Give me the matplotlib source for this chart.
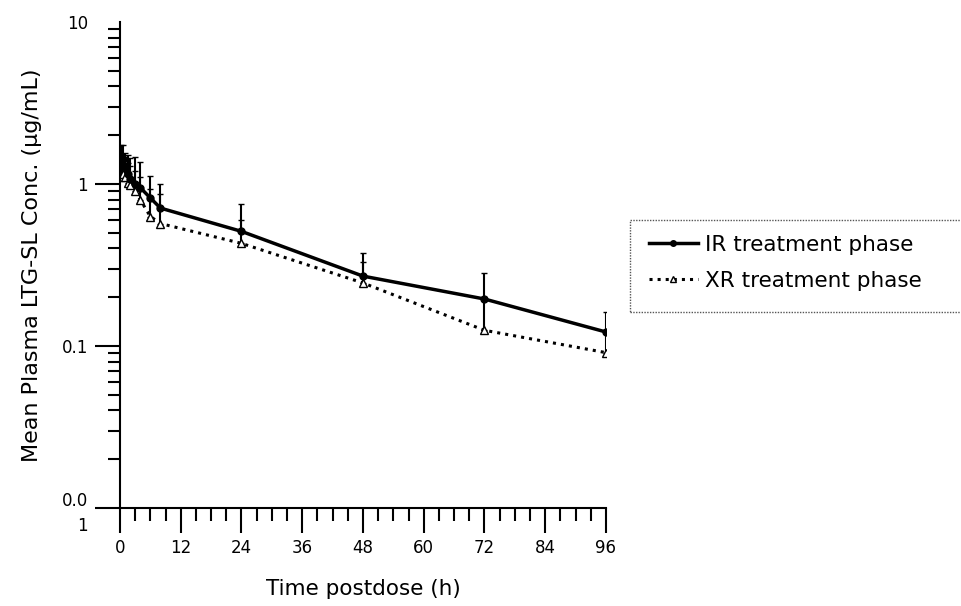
import numpy as np
import matplotlib
matplotlib.use('Agg')
import matplotlib.pyplot as plt
from matplotlib.lines import Line2D
from matplotlib.patches import Rectangle
from matplotlib.ticker import FixedLocator, LogLocator, NullFormatter, MultipleLocator

# ------------------------------ Data ------------------------------------------
time_h = [0.25, 0.5, 1, 1.5, 2, 3, 4, 6, 8, 24, 48, 72, 96]
ir_mean = [1.30, 1.42, 1.30, 1.15, 1.08, 1.00, 0.95, 0.82, 0.71, 0.51, 0.27, 0.195, 0.122]
ir_sd = [0.45, 0.33, 0.25, 0.35, 0.37, 0.47, 0.42, 0.30, 0.29, 0.24, 0.105, 0.087, 0.040]
xr_mean = [1.10, 1.15, 1.10, 1.02, 0.98, 0.90, 0.80, 0.63, 0.57, 0.43, 0.245, 0.125, 0.091]
xr_sd = [0.35, 0.35, 0.30, 0.33, 0.32, 0.30, 0.30, 0.30, 0.30, 0.17, 0.085, 0.075, 0.034]

y_ticks = [0.01, 0.1, 1, 10]
y_ticklabels = ['0.0\n1', '0.1', '1', '10']
x_ticks = [0, 12, 24, 36, 48, 60, 72, 84, 96]

labels = ['IR treatment phase', 'XR treatment phase']

# ------------------------------ Figure ----------------------------------------
fig = plt.figure(figsize=(9.62, 6.06), dpi=100)
ax = fig.add_axes([120 / 962, 1 - 508 / 606, (606 - 120) / 962, (508 - 22) / 606])

# XR first so IR sits on top
ax.errorbar(time_h, xr_mean, yerr=[np.zeros(len(xr_sd)), xr_sd], fmt='none',
            ecolor='black', elinewidth=1.5, capsize=2, capthick=1)
ax.plot(time_h, xr_mean, linestyle=':', color='black', linewidth=2.2,
        marker='^', markersize=6, markerfacecolor='white', markeredgecolor='black',
        markeredgewidth=1)
ax.errorbar(time_h, ir_mean, yerr=[np.zeros(len(ir_sd)), ir_sd], fmt='none',
            ecolor='black', elinewidth=1.5, capsize=2, capthick=1)
ax.plot(time_h, ir_mean, linestyle='-', color='black', linewidth=2.5,
        marker='o', markersize=5)

ax.set_yscale('log')
ax.set_ylim(0.01, 10)
ax.set_xlim(0, 96)

ax.yaxis.set_major_locator(FixedLocator(y_ticks))
ax.set_yticklabels(y_ticklabels)
ax.yaxis.set_minor_locator(LogLocator(base=10, subs=np.arange(2, 10)))
ax.yaxis.set_minor_formatter(NullFormatter())
ax.xaxis.set_major_locator(FixedLocator(x_ticks))
ax.xaxis.set_minor_locator(MultipleLocator(3))

for s in ['top', 'right']:
    ax.spines[s].set_visible(False)
for s in ['left', 'bottom']:
    ax.spines[s].set_linewidth(1.5)

ax.tick_params(axis='both', which='major', length=18, width=1.5, labelsize=12, pad=4)
ax.tick_params(axis='both', which='minor', length=9, width=1.5)
ax.tick_params(axis='y', which='major', pad=5)
# no tick mark at the top (10), only its label
ax.yaxis.get_major_ticks()[3].tick1line.set_visible(False)
for lbl in ax.get_yticklabels():
    lbl.set_linespacing(1.5)

ax.set_xlabel('Time postdose (h)', fontsize=15.5, labelpad=16)
ax.set_ylabel('Mean Plasma LTG-SL Conc. (µg/mL)', fontsize=16, labelpad=14)
ax.patch.set_alpha(0)

# ------------------------------ Legend ----------------------------------------
fig.patches.append(Rectangle((630 / 962, 1 - 312 / 606), 0.4, 92 / 606,
                             transform=fig.transFigure, fill=False,
                             linestyle=(0, (1, 1)), linewidth=1, edgecolor='#555555'))
handles = [
    Line2D([], [], color='black', linestyle='-', linewidth=2.5, marker='o', markersize=4),
    Line2D([], [], color='black', linestyle=':', linewidth=2.2, marker='^', markersize=5,
           markerfacecolor='white', markeredgewidth=1),
]
fig.legend(handles, labels, loc='upper left', bbox_to_anchor=(640 / 962, 1 - 226 / 606),
           frameon=False, fontsize=15.5, handlelength=2.3, handletextpad=0.3,
           labelspacing=0.75, borderaxespad=0)

fig.savefig('out.png', dpi=100)
